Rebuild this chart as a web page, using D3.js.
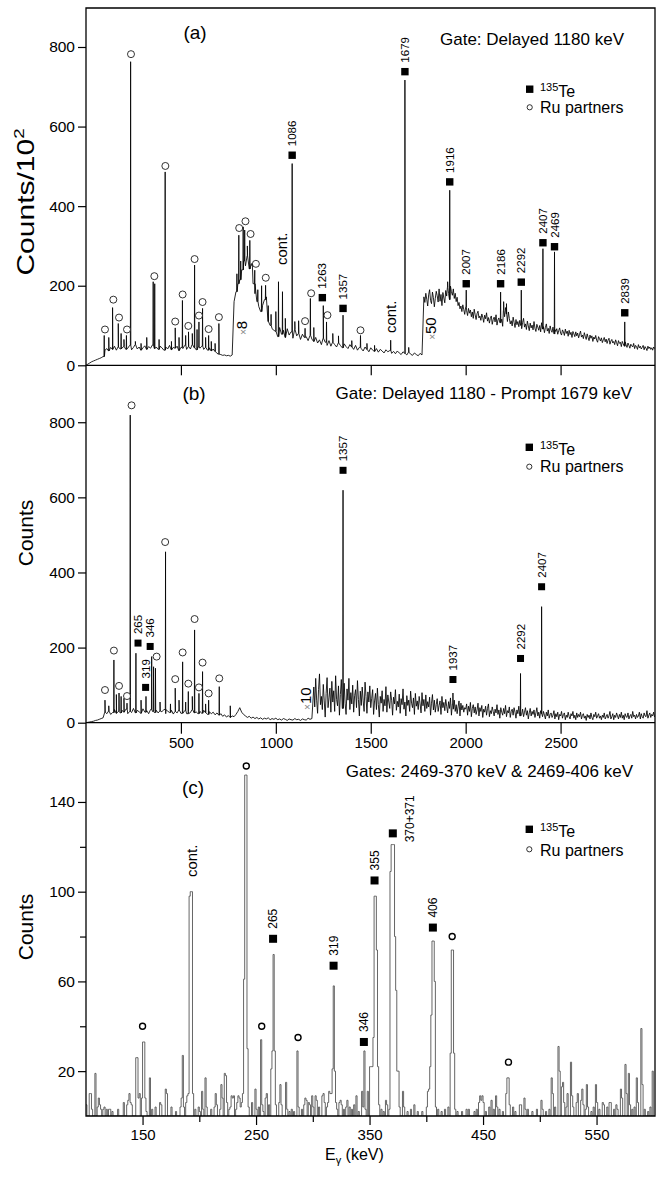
<!DOCTYPE html>
<html><head><meta charset="utf-8">
<script src="https://cdn.jsdelivr.net/npm/d3@7"></script>
<style>
body{margin:0;background:#fff}
svg text{font-family:"Liberation Sans",Arial,Helvetica,sans-serif;fill:#000}
</style>
</head><body>
<svg id="chart" width="659" height="1179"></svg>
<script>
// ---------------- DATA ----------------
// Panel (a): displayed background (counts/10^2). Part 1: 0..1770 keV every 10 keV
const bgA1Start = 0, bgA1Step = 10;
const bgA1 = [
 0,3,6,9,11,13,15,17,19,22,38,42,36,45,40,48,38,46,41,44,
 47,40,43,50,39,45,52,41,46,38,44,49,40,47,43,51,42,46,40,48,
 44,38,46,41,50,39,45,43,48,37,45,42,50,40,47,41,52,44,39,46,
 43,48,40,45,38,44,36,41,35,30,28,27,25,26,24,25,23,26,160,185,
 205,215,240,262,250,275,242,255,205,180,160,148,135,150,165,172,110,100,92,88,
 85,72,95,78,88,70,92,76,84,68,90,74,80,65,78,70,72,62,75,66,
 60,70,56,64,52,68,58,50,62,48,58,52,46,56,50,44,54,47,42,52,
 46,40,50,38,45,42,36,46,40,34,44,38,35,42,33,40,36,31,39,34,
 37,30,35,29,36,31,27,34,30,26,33,28,25,31,27,24,30,26
];
// Part 2 (after the x50 change): 1780..2995 keV every 5 keV
const bgA2Start = 1780, bgA2Step = 5;
const bgA2 = [
 172,158,181,166,149,177,190,163,155,184,
 170,147,168,186,175,159,192,161,178,150,
 183,169,157,188,174,196,180,165,199,185,
 176,192,168,181,160,171,150,158,142,149,
 135,152,140,128,146,137,125,143,131,139,
 122,134,118,141,127,115,130,136,119,124,
 113,129,121,108,126,117,132,111,120,106,
 118,124,103,115,121,109,127,101,114,119,
 107,125,116,98,138,122,145,129,110,134,
 118,104,112,99,121,108,95,115,102,110,
 97,113,100,92,108,118,96,104,90,111,
 99,87,106,94,101,89,110,93,85,103,
 96,88,100,84,107,91,97,82,95,104,
 86,93,80,99,88,83,96,79,90,85,
 92,78,87,94,81,76,89,84,75,91,
 80,86,73,88,77,83,70,85,79,72,
 84,74,81,69,78,86,71,76,67,82,
 73,65,79,70,62,76,68,74,60,71,
 66,75,63,58,72,67,61,69,57,64,
 70,59,66,55,63,68,53,61,65,56,
 60,52,64,57,49,62,55,58,47,60,
 54,48,59,51,45,56,50,43,53,49,
 46,55,42,50,47,40,52,44,48,41,
 45,50,39,47,43,37,48,42,46,40,
 44,38,46,42
];
// Panel (a) peaks: [energy keV, height]
const peaksA = [
 [96,75],[120,70],[140,145],[170,105],[185,80],[200,65],[213,75],[235,763],[260,60],[290,55],
 [320,70],[354,210],[362,205],[385,65],[417,486],[450,60],[470,94],[490,70],[508,163],[525,75],
 [540,84],[560,80],[572,252],[585,90],[595,109],[614,143],[630,70],[646,75],[660,60],[680,55],[700,105],
 [795,230],[805,327],[815,262],[828,348],[836,340],[850,300],[863,314],[875,250],[889,239],[905,190],
 [925,200],[946,201],[960,150],[975,128],[1000,135],[1014,210],[1035,185],[1050,118],[1086,507],
 [1100,110],[1120,112],[1154,93],[1182,168],[1200,95],[1250,150],[1267,109],[1300,80],[1330,74],
 [1354,126],[1400,62],[1446,75],[1480,55],[1520,50],[1605,63],[1680,717],[1700,45],
 [1905,210],[1916,440],[2003,189],[2184,184],[2200,160],[2215,155],[2293,189],[2407,293],[2468,285],[2838,109]
];
// 135Te markers: [energy, marker value, label]
const teA = [[1086,528,"1086"],[1245,170,"1263"],[1354,143,"1357"],[1680,738,"1679"],[1916,461,"1916"],
 [2003,205,"2007"],[2184,205,"2186"],[2293,209,"2292"],[2407,308,"2407"],[2468,298,"2469"],[2838,132,"2839"]];
// Ru partner markers: [energy, marker value]
const ruA = [[100,90],[144,165],[174,120],[216,90],[237,782],[360,224],[418,501],[470,110],[509,178],[539,99],
 [572,267],[595,125],[614,159],[646,91],[700,121],[807,345],[840,362],[867,330],[895,255],[947,220],
 [1154,111],[1186,181],[1272,126],[1446,88]];
const contA = [[1030,252],[1605,81]];
const factorsA = [[820,76,"8"],[1816,64,"50"]];

// Panel (b): part 1, 0..1190 keV every 10 keV
const bgB1Start = 0, bgB1Step = 10;
const bgB1 = [
 0,1,2,3,4,6,7,9,11,13,28,24,31,22,27,35,25,30,26,33,
 28,36,24,30,27,38,26,33,29,25,37,28,32,24,35,30,27,33,26,31,
 29,35,24,31,27,33,23,30,26,34,25,29,32,24,30,27,35,26,29,24,
 30,25,33,27,22,29,24,28,21,26,20,24,17,21,15,19,14,18,16,22,
 30,40,28,22,18,14,17,12,15,11,14,10,13,9,12,10,13,8,11,9,
 12,8,10,7,11,9,6,10,8,7,11,8,9,6,10,8,7,12,9,11
];
// part 2 (after the x10 change): 1200..2995 keV every 5 keV
const bgB2Start = 1200, bgB2Step = 5;
const bgB2 = [
 95,42,118,60,25,88,130,48,70,35,
 102,58,15,78,120,40,66,92,28,110,
 55,85,30,125,62,45,98,20,75,115,
 38,68,105,52,22,90,60,118,35,80,
 50,100,28,72,88,40,112,62,18,84,
 46,95,58,30,108,70,25,82,55,98,
 40,65,88,22,58,78,35,92,48,15,
 70,52,85,30,62,45,96,28,74,55,
 38,82,60,20,68,50,88,33,57,42,
 76,25,64,48,90,36,55,18,72,46,
 60,30,84,52,40,66,22,78,44,58,
 35,70,50,26,80,45,62,30,74,38,
 56,42,68,20,52,75,34,60,28,48,
 64,30,46,58,22,70,40,54,32,62,
 44,26,56,38,66,20,50,36,60,30,
 48,24,42,58,18,52,34,46,28,40,
 36,50,20,44,30,54,16,38,48,26,
 42,22,34,52,18,40,30,46,14,36,
 28,44,20,38,50,16,32,24,42,30,
 18,36,26,48,22,34,12,40,28,20,
 38,24,46,16,32,26,42,14,30,36,
 20,40,28,12,34,24,44,18,30,22,
 36,16,28,40,20,32,10,26,38,18,
 30,22,34,14,26,40,18,28,12,32,
 24,16,30,20,10,28,18,34,12,22,
 26,14,20,32,10,24,16,28,8,22,
 18,30,12,22,26,8,20,14,28,16,
 10,24,18,30,12,20,8,26,14,22,
 16,28,10,20,24,12,18,6,22,14,
 20,10,26,14,8,22,16,28,12,18,
 24,12,18,8,20,14,26,10,16,22,
 12,18,30,10,16,24,8,20,14,26,
 18,10,22,14,28,12,20,8,24,16,
 14,26,10,18,22,12,30,16,20,10,
 22,14,18,28,10,24,16,12,26,18,
 16,32,12,20,26,14,22,18,28,15
];
const peaksB = [
 [100,60],[120,45],[147,167],[160,75],[174,79],[185,70],[200,65],[216,52],[233,819],[263,185],[290,60],
 [316,70],[346,176],[356,149],[366,145],[390,55],[419,455],[445,50],[470,92],[490,60],[509,162],[525,55],[539,83],[560,70],
 [572,247],[595,78],[614,136],[630,50],[646,60],[702,96],[760,45],[1354,619],[1933,79],[2289,131],[2400,309]
];
const teB = [[274,212,"265"],[338,203,"346"],[314,94,"319"],[1354,672,"1357"],[1933,115,"1937"],[2289,171,"2292"],[2400,362,"2407"]];
const ruB = [[100,87],[147,192],[174,98],[216,71],[240,845],[372,176],[417,481],[470,116],[509,187],[539,104],
 [572,276],[595,94],[614,160],[646,78],[702,118]];
const factorsB = [[1157,34,"10"]];

// Panel (c): histogram bins of 1 keV, [bin start keV, counts]; empty bins are zero
const binsC = [
 [100,5],[103,10],[104,10],[105,3],[108,19],[110,4],[111,8],[112,5],[113,3],[115,3],[116,4],[118,3],[120,3],[121,3],[123,2],[128,3],
 [133,6],[136,5],[137,7],[138,10],[139,6],[140,5],[144,26],[145,26],[146,8],[147,10],[149,8],[150,33],[151,33],[152,8],[153,2],
 [156,17],[158,3],[161,4],[165,6],[166,5],[170,12],[171,10],[175,4],[179,2],[183,4],[184,8],[185,27],[186,4],[188,6],[189,9],
 [190,10],[191,98],[192,100],[193,100],[194,10],[196,3],[199,4],[200,2],[202,11],[203,3],[205,17],[206,4],[210,3],[213,4],[214,10],[215,5],
 [218,3],[219,14],[220,8],[222,19],[223,18],[224,6],[226,3],[227,4],[228,9],[229,8],[230,9],[232,3],[233,6],[234,9],[235,8],[236,4],
 [237,6],[238,10],[239,61],[240,152],[241,152],[242,30],[243,4],[246,6],[249,12],[250,3],[252,4],[254,34],[255,5],[256,2],[258,8],[259,10],
 [261,5],[263,21],[264,29],[265,72],[266,29],[267,5],[270,6],[271,14],[272,5],[276,15],[277,3],[279,2],[281,3],[283,2],[286,29],[287,4],
 [290,3],[292,5],[293,8],[294,7],[296,6],[297,5],[299,9],[300,4],[302,9],[303,7],[305,4],[308,9],[309,10],[310,6],[312,4],[313,6],
 [314,11],[315,10],[316,10],[317,21],[318,58],[319,20],[320,6],[321,3],[323,6],[324,7],[325,5],[327,3],[329,4],[330,7],[332,4],[334,3],
 [336,5],[338,9],[340,2],[343,11],[344,4],[345,29],[346,3],[348,11],[350,22],[351,22],[352,22],[353,35],[354,98],[355,98],[356,74],[357,22],
 [358,5],[360,3],[362,2],[364,7],[365,5],[367,3],[368,109],[369,121],[370,121],[371,121],[372,80],[373,56],[374,20],[375,20],[376,4],
 [379,11],[380,4],[383,2],[386,3],[389,5],[392,2],[396,2],[400,4],[401,11],[402,12],[403,22],[404,45],[405,78],[406,78],[407,60],[408,4],
 [410,3],[413,2],[416,3],[419,4],[421,28],[422,74],[423,74],[424,28],[425,3],[427,2],[431,2],[435,3],[437,3],[442,2],[444,3],[446,6],
 [447,9],[448,7],[449,9],[450,6],[452,2],[455,4],[457,7],[459,3],[461,9],[462,4],[464,3],[467,2],[470,10],[471,17],[472,17],[473,5],
 [476,4],[478,2],[482,5],[483,5],[486,8],[487,3],[489,3],[493,2],[497,3],[501,7],[502,3],[505,2],[508,3],[510,17],[511,10],[513,4],
 [516,31],[517,20],[519,13],[520,15],[521,6],[523,4],[524,10],[527,24],[528,9],[529,4],[532,6],[533,10],[536,7],[537,12],[538,5],[540,3],
 [541,14],[542,4],[545,2],[547,4],[549,14],[550,6],[552,3],[555,6],[556,5],[559,4],[561,6],[562,6],[565,3],[567,5],[568,3],[571,12],
 [572,8],[575,23],[576,10],[578,19],[579,5],[581,3],[583,4],[585,17],[586,6],[589,39],[590,14],[592,3],[595,2],[597,4],[599,20]
];
const teC = [[265,79,"265"],[318.3,67,"319"],[345,33,"346"],[354.4,105,"355"],[370.5,126,"370+371"],[405.8,84,"406"]];
const ruC = [[150,40],[241.4,156],[255,40],[287,35],[422.8,80],[472.4,24]];
const contC = [[193.7,106.5]];

// axis ticks
const yTicksA = [0,200,400,600,800];
const yTicksB = [0,200,400,600,800];
const yTicksC = [20,60,100,140];
const yMinorC = [40,80,120];
const xTicksAB = [500,1000,1500,2000,2500];
const xTicksC = [150,250,350,450,550];
const xMinorC = [200,300,400,500];

// ---------------- LAYOUT ----------------
const L = 86, R = 655;
const svg = d3.select("#chart");
const xA = d3.scaleLinear().domain([0,3000]).range([86,655.5]);
const yA = d3.scaleLinear().domain([0,898]).range([365.3,8]);
const yB = d3.scaleLinear().domain([0,951.6]).range([722.7,365.3]);
const xC = d3.scaleLinear().domain([100,600]).range([85.8,653.3]);
const yC = d3.scaleLinear().domain([0,175.2]).range([1116,723]);

const defs = svg.append("defs");
function clip(id, y0, y1){
  defs.append("clipPath").attr("id",id).append("rect").attr("x",L).attr("y",y0).attr("width",R-L).attr("height",y1-y0);
}
clip("ca",8,365.3); clip("cb",365.3,722.7); clip("cc",723,1116);

function spectrum(segments, peaks){
  const bg = [];
  segments.forEach(([start, step, vals])=>vals.forEach((v,i)=>bg.push([start+i*step, v])));
  const pts = bg.slice();
  peaks.forEach(([e,h])=>{
    let b = bg[0][1];
    for(const p of bg){ if(p[0] <= e) b = p[1]; else break; }
    pts.push([e-1.2,b],[e,h],[e+1.2,b]);
  });
  return pts.sort((p,q)=>p[0]-q[0]);
}
function drawSpectrum(segments, peaks, x, y, cid){
  const line = d3.line().x(d=>x(d[0])).y(d=>y(d[1]));
  svg.append("path").attr("clip-path",`url(#${cid})`)
    .attr("d", line(spectrum(segments,peaks)))
    .attr("fill","none").attr("stroke","#000").attr("stroke-width",0.85).attr("stroke-linejoin","round");
}
drawSpectrum([[bgA1Start,bgA1Step,bgA1],[bgA2Start,bgA2Step,bgA2]], peaksA, xA, yA, "ca");
drawSpectrum([[bgB1Start,bgB1Step,bgB1],[bgB2Start,bgB2Step,bgB2]], peaksB, xA, yB, "cb");

// histogram (c)
(function(){
  const m = new Map(binsC);
  const pts = d3.range(100, 601).map(e=>[e, m.get(e)||0]);
  const line = d3.line().x(d=>xC(d[0])).y(d=>yC(d[1])).curve(d3.curveStepAfter);
  svg.append("path").attr("clip-path","url(#cc)").attr("d", line(pts))
    .attr("fill","none").attr("stroke","#555").attr("stroke-width",0.9);
})();

// frame
svg.append("path").attr("d",`M${L},8H${R}V1116H${L}Z`).attr("fill","none").attr("stroke","#000").attr("stroke-width",1.3);
[365.3,722.7].forEach(yy=>svg.append("line").attr("x1",L).attr("x2",R).attr("y1",yy).attr("y2",yy).attr("stroke","#000").attr("stroke-width",1.3));

const fmt = d3.format("d");
function styleAxis(g, fs){
  g.select(".domain").remove();
  g.selectAll("line").attr("stroke","#000").attr("stroke-width",1.2);
  g.selectAll("text").attr("font-size",fs).attr("font-family",null).attr("fill","#000");
}
function yAxis(scale, vals, size, labels){
  const ax = d3.axisLeft(scale).tickValues(vals).tickSize(size).tickPadding(3).tickFormat(labels ? fmt : "");
  const g = svg.append("g").attr("transform",`translate(${L},0)`).call(ax);
  styleAxis(g, 15.5);
}
function xAxis(scale, vals, yy, size, labels){
  const ax = d3.axisBottom(scale).tickValues(vals).tickSize(size).tickPadding(4).tickFormat(labels ? fmt : "");
  const g = svg.append("g").attr("transform",`translate(0,${yy})`).call(ax);
  styleAxis(g, 15);
}
yAxis(yA, yTicksA, 8, true);
yAxis(yB, yTicksB, 8, true);
yAxis(yC, yTicksC, 8, true);
yAxis(yC, yMinorC, 6, false);
xAxis(xA, xTicksAB, 365.3, 10, false);
xAxis(xA, xTicksAB, 722.7, 11, true);
xAxis(xC, xTicksC, 1116, 9, true);
xAxis(xC, xMinorC, 1116, 6, false);

// markers
function squares(data, x, y, size, fs, gap){
  data.forEach(d=>{
    const cx = x(d[0]), cy = y(d[1]);
    svg.append("rect").attr("x",cx-size/2).attr("y",cy-size/2).attr("width",size).attr("height",size).attr("fill","#000");
    const side = d[2].includes("+");
    const tx = side ? cx+17 : cx, ty = side ? cy+9 : cy-gap;
    svg.append("text").attr("transform",`translate(${tx},${ty}) rotate(-90)`)
      .attr("dy","0.35em").attr("font-size",fs).text(d[2]);
  });
}
function circles(data, x, y, r, sw){
  data.forEach(d=>{
    svg.append("circle").attr("cx",x(d[0])).attr("cy",y(d[1])).attr("r",r)
      .attr("fill","#fff").attr("stroke","#000").attr("stroke-width",sw);
  });
}
squares(teA, xA, yA, 7.4, 11.5, 9);
circles(ruA, xA, yA, 3.5, 0.8);
squares(teB, xA, yB, 7, 11.5, 9);
circles(ruB, xA, yB, 3.5, 0.8);
squares(teC, xC, yC, 8, 12, 10);
circles(ruC, xC, yC, 3, 1.4);

function rotText(x, y, txt, fs){
  svg.append("text").attr("transform",`translate(${x},${y}) rotate(-90)`).attr("dy","0.35em").attr("font-size",fs).text(txt);
}
contA.forEach(d=>rotText(xA(d[0]), yA(d[1]), "cont.", 15));
contC.forEach(d=>rotText(xC(d[0]), yC(d[1]), "cont.", 15));
function factor(x, y, num){
  const t = svg.append("text").attr("transform",`translate(${x},${y}) rotate(-90)`).attr("dy","0.35em");
  t.append("tspan").attr("font-size",10).attr("fill","#888").text("×");
  t.append("tspan").attr("font-size",15).text(num);
}
factorsA.forEach(d=>factor(xA(d[0]), yA(d[1]), d[2]));
factorsB.forEach(d=>factor(xA(d[0]), yB(d[1]), d[2]));

// legends
function legend(sx, sy, cy, tBase, rBase){
  svg.append("rect").attr("x",sx-3.7).attr("y",sy-3.7).attr("width",7.4).attr("height",7.4).attr("fill","#000");
  const t = svg.append("text").attr("x",540).attr("y",tBase).attr("font-size",16);
  t.append("tspan").attr("font-size",11).attr("dy",-6).text("135");
  t.append("tspan").attr("dy",6).text("Te");
  svg.append("circle").attr("cx",sx).attr("cy",cy).attr("r",2.6).attr("fill","#fff").attr("stroke","#000").attr("stroke-width",0.8);
  svg.append("text").attr("x",540).attr("y",rBase).attr("font-size",16).text("Ru partners");
}
legend(529.7, 89.2, 107.3, 96.5, 112.5);
legend(529.3, 447.3, 466.7, 455, 472);
legend(529.3, 829.3, 849.3, 836.5, 855.5);

// panel labels & gate titles
const txt = (x,y,s,fs,anchor)=>svg.append("text").attr("x",x).attr("y",y).attr("font-size",fs).attr("text-anchor",anchor||"start").text(s);
txt(195,38.5,"(a)",19,"middle");
txt(194,400,"(b)",19,"middle");
txt(193,794,"(c)",19,"middle");
txt(624,45,"Gate: Delayed 1180 keV",17,"end");
txt(632,399,"Gate: Delayed 1180 - Prompt 1679 keV",17,"end");
txt(633,777,"Gates: 2469-370 keV & 2469-406 keV",17,"end");

// axis titles
(function(){
  const t = svg.append("text").attr("transform","translate(26,202) rotate(-90) scale(1.25,1)").attr("text-anchor","middle").attr("dy","0.35em").attr("font-size",24);
  t.append("tspan").text("Counts/10");
  t.append("tspan").attr("font-size",15).attr("dy",-10).text("2");
  svg.append("text").attr("transform","translate(26,533) rotate(-90)").attr("text-anchor","middle").attr("dy","0.35em").attr("font-size",21).text("Counts");
  svg.append("text").attr("transform","translate(26,927) rotate(-90)").attr("text-anchor","middle").attr("dy","0.35em").attr("font-size",21).text("Counts");
  const xt = svg.append("text").attr("x",325).attr("y",1160).attr("font-size",16);
  xt.append("tspan").text("E");
  xt.append("tspan").attr("font-size",11).attr("dy",4).text("γ");
  xt.append("tspan").attr("dy",-4).text(" (keV)");
})();
</script>
</body></html>
